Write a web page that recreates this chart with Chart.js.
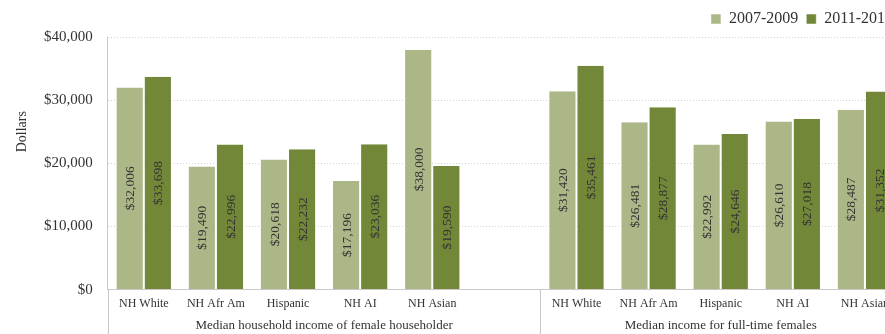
<!DOCTYPE html>
<html>
<head>
<meta charset="utf-8">
<script src="https://cdn.jsdelivr.net/npm/chart.js@4/dist/chart.umd.min.js"></script>
<style>
  html, body { margin: 0; padding: 0; background: #fff; overflow: hidden; }
  #wrap { width: 905px; height: 334px; }
</style>
</head>
<body>
<div id="wrap"><canvas id="incomeChart" width="905" height="334"></canvas></div>
<script>
// categories (blank slot splits the two groups)
const categories = ['NH White', 'NH Afr Am', 'Hispanic', 'NH AI', 'NH Asian', '',
  'NH White', 'NH Afr Am', 'Hispanic', 'NH AI', 'NH Asian'];
const groupNames = ['Median household income of female householder', 'Median income for full-time females'];
const groupStarts = [0, 6];
const groupEnds = [5, 10];

const series2007 = [32006, 19490, 20618, 17196, 38000, null, 31420, 26481, 22992, 26610, 28487];
const series2011 = [33698, 22996, 22232, 23036, 19590, null, 35461, 28877, 24646, 27018, 31352];

const yTicks = [0, 10000, 20000, 30000, 40000];

const FONT = "'Liberation Serif', 'DejaVu Serif', serif";
const lineGrey = '#c9c9c9';
const textGrey = '#333';

function dollars(v) {
  return '$' + Number(v).toLocaleString('en-US');
}

// value labels written upright inside each bar
const barLabels = {
  id: 'barLabels',
  afterDatasetsDraw(chart) {
    const ctx = chart.ctx;
    ctx.save();
    ctx.font = '13.5px ' + FONT;
    ctx.fillStyle = textGrey;
    ctx.textAlign = 'center';
    ctx.textBaseline = 'middle';
    chart.data.datasets.forEach((ds, i) => {
      chart.getDatasetMeta(i).data.forEach((bar, j) => {
        const v = ds.data[j];
        if (v == null) return;
        const midY = (bar.y + bar.base) / 2;
        ctx.save();
        ctx.translate(bar.x, midY);
        ctx.rotate(-Math.PI / 2);
        ctx.fillText(dollars(v), 0, 1);
        ctx.restore();
      });
    });
    ctx.restore();
  }
};

// second level of the category axis, plus the y axis title
const groupAxis = {
  id: 'groupAxis',
  afterDraw(chart) {
    const ctx = chart.ctx;
    const x = chart.scales.x;
    const y = chart.scales.y;
    const area = chart.chartArea;
    const slot = x.getPixelForValue(1) - x.getPixelForValue(0);
    ctx.save();
    ctx.strokeStyle = lineGrey;
    ctx.lineWidth = 1;
    ctx.beginPath();
    ctx.moveTo(Math.round(area.left) + 0.5, area.bottom);
    ctx.lineTo(Math.round(area.left) + 0.5, chart.height);
    const sep = Math.round(x.getPixelForValue(groupEnds[0]) + slot / 2) + 0.5;
    ctx.moveTo(sep, area.bottom);
    ctx.lineTo(sep, chart.height);
    ctx.stroke();

    ctx.font = '13px ' + FONT;
    ctx.fillStyle = textGrey;
    ctx.textAlign = 'center';
    ctx.textBaseline = 'middle';
    groupNames.forEach((name, g) => {
      const l = x.getPixelForValue(groupStarts[g]) - slot / 2;
      const r = x.getPixelForValue(groupEnds[g]) + slot / 2;
      ctx.fillText(name, (l + r) / 2, area.bottom + 36);
    });

    ctx.font = '14px ' + FONT;
    ctx.translate(22, y.getPixelForValue(25000));
    ctx.rotate(-Math.PI / 2);
    ctx.fillText('Dollars', 0, 0);
    ctx.restore();
  }
};

new Chart(document.getElementById('incomeChart'), {
  type: 'bar',
  data: {
    labels: categories,
    datasets: [
      { label: '2007-2009', data: series2007, backgroundColor: '#acb787', borderColor: '#fff', borderWidth: { left: 1, right: 1 } },
      { label: '2011-2013', data: series2011, backgroundColor: '#728838', borderColor: '#fff', borderWidth: { left: 1, right: 1 } }
    ]
  },
  options: {
    responsive: false,
    animation: false,
    categoryPercentage: 0.78,
    barPercentage: 1,
    layout: { padding: { left: 29, right: 4, top: 3, bottom: 16 } },
    plugins: {
      legend: {
        position: 'top',
        align: 'end',
        labels: {
          boxWidth: 10,
          boxHeight: 10,
          color: textGrey,
          font: { family: FONT, size: 16 },
          padding: 8
        }
      },
      tooltip: { enabled: false }
    },
    scales: {
      x: {
        grid: { display: false, drawTicks: false },
        border: { color: lineGrey },
        ticks: { color: textGrey, font: { family: FONT, size: 12 }, padding: 7, maxRotation: 0, autoSkip: false }
      },
      y: {
        min: 0,
        max: 40000,
        afterBuildTicks(axis) { axis.ticks = yTicks.map(v => ({ value: v })); },
        grid: { color: '#d2d2d2', drawTicks: false },
        border: { color: lineGrey, dash: [1, 2] },
        ticks: { color: textGrey, font: { family: FONT, size: 15 }, padding: 15, callback: v => dollars(v) }
      }
    }
  },
  plugins: [barLabels, groupAxis]
});
</script>
</body>
</html>
